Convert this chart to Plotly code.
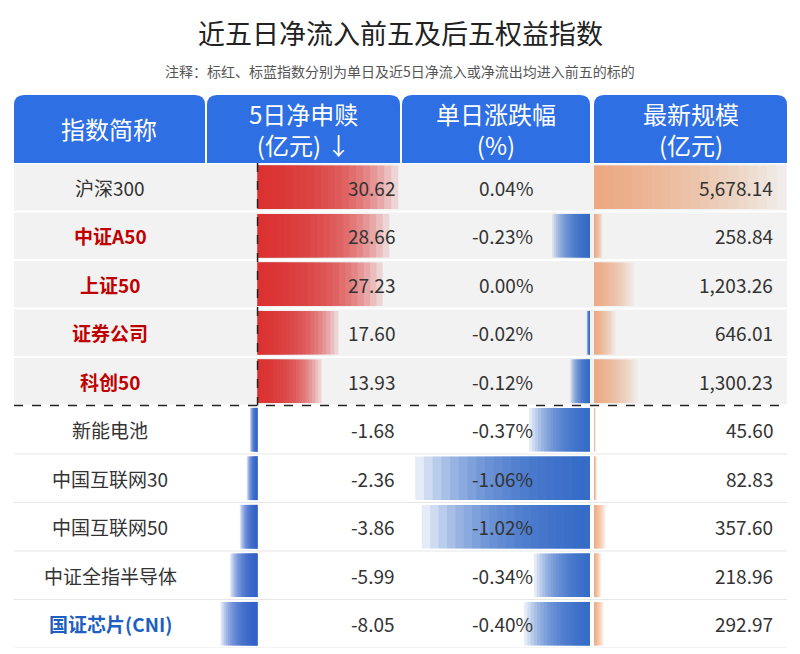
import plotly.graph_objects as go

names = ["沪深300", "中证A50", "上证50", "证券公司", "科创50",
         "新能电池", "中国互联网30", "中国互联网50", "中证全指半导体", "国证芯片(CNI)"]
name_colors = ["#333333", "#c00000", "#c00000", "#c00000", "#c00000",
               "#333333", "#333333", "#333333", "#333333", "#1f5fbf"]
net_flow = [30.62, 28.66, 27.23, 17.60, 13.93, -1.68, -2.36, -3.86, -5.99, -8.05]
day_change = [0.04, -0.23, 0.00, -0.02, -0.12, -0.37, -1.06, -1.02, -0.34, -0.40]
scale = [5678.14, 258.84, 1203.26, 646.01, 1300.23, 45.60, 82.83, 357.60, 218.96, 292.97]
headers = ["指数简称", "5日净申赎<br>(亿元) ↓", "单日涨跌幅<br>(%)", "最新规模<br>(亿元)"]

W, H = 800, 654
OFF = 8  # page body margin
FONT = "Noto Sans CJK SC"
N_SEG = 20
rows = list(range(len(names)))


def px(x):
    return (x - OFF) / W


def py(y):
    return 1 - (y - OFF) / H


def gradient_bars(values, axis, rgb_pos, rgb_neg, alpha):
    # overlaid bars from zero, shorter ones on top, so colour builds up near zero
    traces = []
    for k in range(N_SEG):
        frac = 1 - k / N_SEG
        colors = [f"rgba({rgb_pos if v >= 0 else rgb_neg},{alpha:.3f})" for v in values]
        traces.append(go.Bar(
            y=rows, x=[v * frac for v in values], orientation="h", width=0.9,
            marker=dict(color=colors, line=dict(width=0)),
            xaxis=axis, yaxis="y", showlegend=False, hoverinfo="skip"))
    return traces


fig = go.Figure()
for t in gradient_bars(net_flow, "x", "220,40,40", "45,95,200", 0.14):
    fig.add_trace(t)
for t in gradient_bars(day_change, "x2", "220,40,40", "45,95,200", 0.12):
    fig.add_trace(t)
for t in gradient_bars(scale, "x3", "240,130,80", "240,130,80", 0.05):
    fig.add_trace(t)

cols = [(14, 205), (207, 400), (402, 590), (594, 787)]
shapes = []
for i in rows:
    shapes.append(dict(type="rect", xref="paper", yref="y", x0=px(14), x1=px(787),
                       y0=i - 0.48, y1=i + 0.48, layer="below", line=dict(width=0),
                       fillcolor="#f2f2f2" if i < 5 else "#ffffff"))
    if i >= 5:
        shapes.append(dict(type="line", xref="paper", yref="y", x0=px(14), x1=px(787),
                           y0=i + 0.5, y1=i + 0.5, layer="below", line=dict(color="#e6e6e6", width=1)))
r = 10
for x0, x1 in cols:
    ya, yb = 95, 163
    path = (f"M {px(x0)},{py(yb)} L {px(x0)},{py(ya + r)} Q {px(x0)},{py(ya)} {px(x0 + r)},{py(ya)} "
            f"L {px(x1 - r)},{py(ya)} Q {px(x1)},{py(ya)} {px(x1)},{py(ya + r)} L {px(x1)},{py(yb)} Z")
    shapes.append(dict(type="path", xref="paper", yref="paper", path=path,
                       fillcolor="#2f6fe4", line=dict(width=0)))
shapes.append(dict(type="line", xref="paper", yref="y", x0=px(14), x1=px(787), y0=4.5, y1=4.5,
                   line=dict(color="#222222", width=1.5, dash="dash")))
shapes.append(dict(type="line", xref="x", yref="y", x0=0, x1=0, y0=-0.5, y1=4.5,
                   line=dict(color="#222222", width=1.5, dash="dash")))


def text(x, y, s, size, color, xanchor="center", yref="paper"):
    return dict(x=x, y=y, xref="paper", yref=yref, text=s, showarrow=False,
                xanchor=xanchor, yanchor="middle", font=dict(size=size, color=color, family=FONT))


ann = [
    text(px(400), py(32), "近五日净流入前五及后五权益指数", 27, "#222222"),
    text(px(400), py(71), "注释：标红、标蓝指数分别为单日及近5日净流入或净流出均进入前五的标的", 14, "#555555"),
]
for (x0, x1), h in zip(cols, headers):
    ann.append(text(px((x0 + x1) / 2), py(129), h, 24, "white"))
for i in rows:
    nm = f"<b>{names[i]}</b>" if name_colors[i] != "#333333" else names[i]
    ann.append(text(px(110), i, nm, 19, name_colors[i], yref="y"))
    ann.append(text(px(397), i, f"{net_flow[i]:.2f}", 19, "#333333", "right", "y"))
    ann.append(text(px(535), i, f"{day_change[i]:.2f}%", 19, "#333333", "right", "y"))
    ann.append(text(px(775), i, f"{scale[i]:,.2f}", 19, "#333333", "right", "y"))

hidden = dict(showgrid=False, zeroline=False, showticklabels=False, fixedrange=True)
fig.update_layout(
    width=W, height=H, margin=dict(l=0, r=0, t=0, b=0),
    paper_bgcolor="white", plot_bgcolor="rgba(0,0,0,0)", barmode="overlay",
    xaxis=dict(domain=[px(207), px(400)], range=[-11.0, 31.0], anchor="y", **hidden),
    xaxis2=dict(domain=[px(402), px(590)], range=[-1.14, 0.0], anchor="y", **hidden),
    xaxis3=dict(domain=[px(594), px(787)], range=[0, 5700], anchor="y", **hidden),
    yaxis=dict(domain=[py(648), py(163)], range=[9.5, -0.5], **hidden),
    shapes=shapes, annotations=ann,
)
fig.write_html("out.html")
